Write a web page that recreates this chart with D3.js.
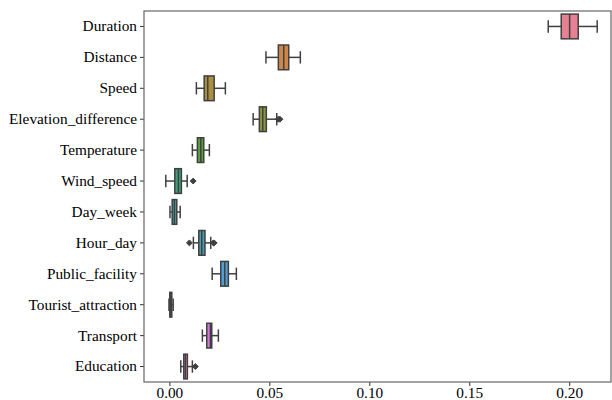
<!DOCTYPE html>
<html><head><meta charset="utf-8">
<script src="https://cdn.jsdelivr.net/npm/d3@7"></script>
<style>body{margin:0;background:#fff}svg{display:block}</style>
</head><body><svg id="c" width="612" height="400"></svg>
<script>
const categories = ["Duration","Distance","Speed","Elevation_difference","Temperature","Wind_speed","Day_week","Hour_day","Public_facility","Tourist_attraction","Transport","Education"];
const q1 =        [0.1960, 0.0545, 0.0174, 0.0450, 0.0140, 0.0027, 0.0014, 0.0147, 0.0257, 0.0002, 0.0187, 0.0072];
const medians =   [0.2002, 0.0572, 0.0192, 0.0467, 0.0157, 0.0045, 0.0025, 0.0162, 0.0277, 0.0007, 0.0205, 0.0080];
const q3 =        [0.2045, 0.0597, 0.0224, 0.0485, 0.0172, 0.0060, 0.0037, 0.0178, 0.0295, 0.0012, 0.0212, 0.0090];
const whiskerLo = [0.1895, 0.0483, 0.0135, 0.0419, 0.0115,-0.0018, 0.0003, 0.0120, 0.0214,-0.0002, 0.0165, 0.0057];
const whiskerHi = [0.2140, 0.0655, 0.0280, 0.0537, 0.0200, 0.0089, 0.0054, 0.0207, 0.0335, 0.0019, 0.0245, 0.0115];
const outliers =  [[], [], [], [0.0544, 0.0553], [], [0.0119], [], [0.0100, 0.0220, 0.0224], [], [], [], [0.0130]];
const xTicks = [0.00, 0.05, 0.10, 0.15, 0.20];

// seaborn husl palette
const M=[[3.240969941904521,-1.537383177570093,-0.498610760293],[-0.96924363628087,1.87596750150772,0.041555057407175],[0.055630079696993,-0.20397695888897,1.056971514242878]];
const refU=0.19783000664283,refV=0.46831999493879,kappa=903.2962962,eps=0.0088564516;
function bounds(L){const s1=Math.pow(L+16,3)/1560896;const s2=s1>eps?s1:L/kappa;const r=[];
 for(let c=0;c<3;c++){const[m1,m2,m3]=M[c];for(let t=0;t<2;t++){const top1=(284517*m1-94839*m3)*s2;const top2=(838422*m3+769860*m2+731718*m1)*L*s2-769860*t*L;const bot=(632260*m3-126452*m2)*s2+126452*t;r.push([top1/bot,top2/bot]);}}return r;}
function maxC(L,H){const hr=H/360*Math.PI*2;let m=Infinity;for(const[sl,ic] of bounds(L)){const len=ic/(Math.sin(hr)-sl*Math.cos(hr));if(len>=0)m=Math.min(m,len);}return m;}
function husl(H,S,L){const C=maxC(L,H)/100*S;const hr=H/360*Math.PI*2;const U=C*Math.cos(hr),V=C*Math.sin(hr);
 const vu=U/(13*L)+refU,vv=V/(13*L)+refV;const Y=L<=8?L/kappa:Math.pow((L+16)/116,3);
 const X=0-(9*Y*vu)/((vu-4)*vv-vu*vv);const Z=(9*Y-15*vv*Y-vv*X)/(3*vv);
 const f=c=>c<=0.0031308?12.92*c:1.055*Math.pow(c,1/2.4)-0.055;
 return M.map(r=>Math.max(0,Math.min(1,f(r[0]*X+r[1]*Y+r[2]*Z))));}
const n=categories.length;
const colors=d3.range(n).map(i=>{const h=((i/n+0.01)%1)*359;const rgb=husl(h,0.9*99,0.65*99);
 const c=d3.hsl(d3.rgb(rgb[0]*255,rgb[1]*255,rgb[2]*255));c.s*=0.75;return c.formatHex();});
const lum=d3.min(colors,c=>d3.hsl(c).l);const g=Math.round(lum*0.6*255);const gray=d3.rgb(g,g,g).formatHex();

const FONT="Liberation Serif, DejaVu Serif, serif";
const FS=15.3;
const svg=d3.select("#c");
const L=144,R=611,T=11,B=382;
const x=d3.scaleLinear().domain([-0.0127,0.2209]).range([L,R]);
const y=d3.scaleBand().domain(categories).range([T,B]);
const bw=y.bandwidth()*0.8;

svg.append("g").attr("transform",`translate(0,${B})`).call(d3.axisBottom(x).tickValues(xTicks).tickFormat(d3.format(".2f")).tickSize(4).tickPadding(1).tickSizeOuter(0))
 .attr("font-family",FONT)
 .call(a=>{a.select(".domain").remove();a.selectAll("line").attr("stroke","#333");a.selectAll("text").attr("font-size",FS).attr("fill","#000").attr("font-family",FONT);});
svg.append("g").attr("transform",`translate(${L},0)`).call(d3.axisLeft(y).tickSize(4).tickSizeOuter(0))
 .attr("font-family",FONT)
 .call(a=>{a.select(".domain").remove();a.selectAll("line").attr("stroke","#333");a.selectAll("text").attr("font-size",FS).attr("fill","#000").attr("font-family",FONT);});

const gb=svg.append("g");
categories.forEach((c,i)=>{
 const cy=y(c)+y.bandwidth()/2;
 const ln=(x1,y1,x2,y2)=>gb.append("line").attr("x1",x1).attr("y1",y1).attr("x2",x2).attr("y2",y2).attr("stroke",gray).attr("stroke-width",1.5);
 ln(x(whiskerLo[i]),cy,x(q1[i]),cy);
 ln(x(q3[i]),cy,x(whiskerHi[i]),cy);
 ln(x(whiskerLo[i]),cy-bw/4,x(whiskerLo[i]),cy+bw/4);
 ln(x(whiskerHi[i]),cy-bw/4,x(whiskerHi[i]),cy+bw/4);
 gb.append("rect").attr("x",x(q1[i])).attr("y",cy-bw/2).attr("width",x(q3[i])-x(q1[i])).attr("height",bw)
  .attr("fill",colors[i]).attr("stroke",gray).attr("stroke-width",1.5);
 ln(x(medians[i]),cy-bw/2,x(medians[i]),cy+bw/2);
 outliers[i].forEach(o=>{gb.append("path").attr("d",d3.symbol(d3.symbolDiamond2,22)()).attr("transform",`translate(${x(o)},${cy})`).attr("fill",gray).attr("stroke",gray).attr("stroke-width",1);});
});
svg.append("rect").attr("x",L).attr("y",T).attr("width",R-L).attr("height",B-T).attr("fill","none").attr("stroke","#666").attr("stroke-width",1.2);
</script></body></html>
